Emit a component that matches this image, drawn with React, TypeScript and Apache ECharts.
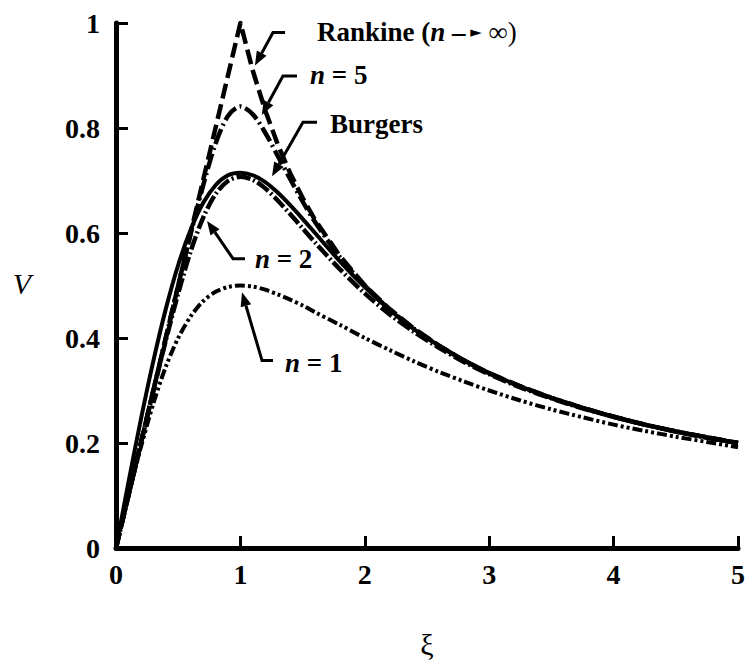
import React, { useEffect, useRef } from "react";
import * as echarts from "echarts";

// Radial coordinate (r / r_c) shared by the smooth profiles
const xi = [0, 0.1, 0.2, 0.3, 0.4, 0.5, 0.6, 0.7, 0.8, 0.9, 1.0, 1.1, 1.2, 1.3, 1.4, 1.5, 1.6, 1.8, 2.0, 2.2, 2.4, 2.6, 2.8, 3.0, 3.25, 3.5, 3.75, 4.0, 4.25, 4.5, 4.75, 5.0];

// Tangential velocity profiles
const vN1 = [0, 0.099, 0.192, 0.275, 0.345, 0.4, 0.441, 0.47, 0.488, 0.497, 0.5, 0.498, 0.492, 0.483, 0.473, 0.462, 0.449, 0.425, 0.4, 0.377, 0.355, 0.335, 0.317, 0.3, 0.281, 0.264, 0.249, 0.235, 0.223, 0.212, 0.202, 0.192];
const vN2 = [0, 0.1, 0.2, 0.299, 0.395, 0.485, 0.565, 0.629, 0.674, 0.699, 0.707, 0.701, 0.685, 0.662, 0.636, 0.609, 0.582, 0.531, 0.485, 0.445, 0.411, 0.381, 0.354, 0.331, 0.306, 0.285, 0.266, 0.25, 0.235, 0.222, 0.21, 0.2];
const vBurgers = [0, 0.125, 0.245, 0.356, 0.455, 0.539, 0.606, 0.657, 0.691, 0.71, 0.715, 0.71, 0.697, 0.677, 0.653, 0.627, 0.6, 0.546, 0.497, 0.454, 0.416, 0.385, 0.357, 0.333, 0.308, 0.286, 0.267, 0.25, 0.235, 0.222, 0.211, 0.2];
const vN5 = [0, 0.1, 0.2, 0.3, 0.4, 0.5, 0.598, 0.69, 0.77, 0.823, 0.841, 0.826, 0.791, 0.747, 0.703, 0.66, 0.621, 0.554, 0.5, 0.454, 0.417, 0.385, 0.357, 0.333, 0.308, 0.286, 0.267, 0.25, 0.235, 0.222, 0.211, 0.2];

// Rankine vortex: solid-body core, potential flow outside
const xiRankine = [0, 1, 1.1, 1.2, 1.3, 1.4, 1.5, 1.6, 1.8, 2.0, 2.2, 2.4, 2.6, 2.8, 3.0, 3.25, 3.5, 3.75, 4.0, 4.25, 4.5, 4.75, 5.0];
const vRankine = [0, 1, 0.909, 0.833, 0.769, 0.714, 0.667, 0.625, 0.556, 0.5, 0.455, 0.417, 0.385, 0.357, 0.333, 0.308, 0.286, 0.267, 0.25, 0.235, 0.222, 0.211, 0.2];

const yTicks = [0, 0.2, 0.4, 0.6, 0.8, 1];
const xTicks = [0, 1, 2, 3, 4, 5];

const SERIF = "Times New Roman, Liberation Serif, DejaVu Serif, serif";

// Callouts: arrow tip, elbow, end of leader (all in data units), then label anchor
type Callout = { tip: number[]; elbow: number[]; end: number[]; label: number[]; text: string };
const callouts: Callout[] = [
  { tip: [1.117, 0.919], elbow: [1.262, 0.982], end: [1.359, 0.982], label: [1.616, 0.982], text: "{b|Rankine (}{i|n}{b| \u2013}{t| \u25BA}{r| \u221E)}" },
  { tip: [1.172, 0.825], elbow: [1.342, 0.899], end: [1.455, 0.899], label: [1.56, 0.901], text: "{i|n}{b| = 5}" },
  { tip: [1.254, 0.708], elbow: [1.503, 0.811], end: [1.616, 0.811], label: [1.72, 0.807], text: "{b|Burgers}" },
  { tip: [0.732, 0.623], elbow: [0.941, 0.551], end: [1.037, 0.551], label: [1.117, 0.55], text: "{i|n}{b| = 2}" },
  { tip: [1.013, 0.487], elbow: [1.174, 0.357], end: [1.262, 0.357], label: [1.359, 0.353], text: "{i|n}{b| = 1}" },
];

const pairs = (xs: number[], ys: number[]) => xs.map((x, i) => [x, ys[i]]);

export default function App() {
  const ref = useRef<HTMLDivElement>(null);

  useEffect(() => {
    document.body.style.margin = "0";
    const chart = echarts.init(ref.current!, null, { renderer: "svg" });

    const line = (name: string, data: number[][], width: number, dash: any, smooth: number | boolean) => ({
      name,
      type: "line",
      data,
      smooth,
      showSymbol: false,
      symbol: "none",
      lineStyle: { color: "#000", width, type: dash, cap: "butt", join: "round" },
      z: 3,
    });

    chart.setOption({
      animation: false,
      backgroundColor: "#fff",
      textStyle: { fontFamily: SERIF },
      grid: { left: 116, right: 10, top: 23, bottom: 97 },
      xAxis: {
        type: "value",
        min: 0,
        max: 5,
        interval: 1,
        name: "\u03BE",
        nameLocation: "middle",
        nameGap: 81,
        nameTextStyle: { fontFamily: SERIF, fontSize: 30, color: "#000" },
        axisLine: { show: true, lineStyle: { color: "#000", width: 5 } },
        axisTick: { show: true, inside: true, length: 12, lineStyle: { color: "#000", width: 3 } },
        axisLabel: {
          fontFamily: SERIF,
          fontWeight: "bold",
          fontSize: 28,
          color: "#000",
          margin: 12,
          formatter: (v: number) => (xTicks.includes(v) ? String(v) : ""),
        },
        splitLine: { show: false },
      },
      yAxis: {
        type: "value",
        min: 0,
        max: 1,
        interval: 0.2,
        axisLine: { show: true, lineStyle: { color: "#000", width: 5 } },
        axisTick: { show: true, inside: true, length: 12, lineStyle: { color: "#000", width: 3 } },
        axisLabel: {
          fontFamily: SERIF,
          fontWeight: "bold",
          fontSize: 28,
          color: "#000",
          margin: 16,
          formatter: (v: number) => {
            const t = yTicks.find((k) => Math.abs(k - v) < 1e-9);
            if (t === undefined) return "";
            return t === 0 || t === 1 ? String(t) : t.toFixed(1);
          },
        },
        splitLine: { show: false },
      },
      series: [
        line("n = 1", pairs(xi, vN1), 4, [10, 3, 3, 3, 3, 3], 0.3),
        line("n = 2", pairs(xi, vN2), 4.5, [14, 3, 2, 3], 0.3),
        line("Burgers", pairs(xi, vBurgers), 4, "solid", 0.3),
        line("n = 5", pairs(xi, vN5), 4.5, [16, 4, 2, 4], 0.3),
        line("Rankine", pairs(xiRankine, vRankine), 4.5, [15, 6], false),
      ],
    });

    const px = (p: number[]) => chart.convertToPixel({ gridIndex: 0 }, p) as number[];
    const graphics: any[] = [];
    const headLen = 14;
    const headHalf = 5.5;
    callouts.forEach((c) => {
      const tip = px(c.tip);
      const elbow = px(c.elbow);
      const end = px(c.end);
      const dx = tip[0] - elbow[0];
      const dy = tip[1] - elbow[1];
      const len = Math.hypot(dx, dy);
      const ux = dx / len;
      const uy = dy / len;
      const base = [tip[0] - ux * headLen, tip[1] - uy * headLen];
      graphics.push({
        type: "polyline",
        shape: { points: [end, elbow, base] },
        style: { stroke: "#000", lineWidth: 3, fill: null },
        z: 10,
      });
      graphics.push({
        type: "polygon",
        shape: {
          points: [
            tip,
            [base[0] - uy * headHalf, base[1] + ux * headHalf],
            [base[0] + uy * headHalf, base[1] - ux * headHalf],
          ],
        },
        style: { fill: "#000", stroke: null },
        z: 10,
      });
      const lp = px(c.label);
      graphics.push({
        type: "text",
        x: lp[0],
        y: lp[1],
        z: 10,
        style: {
          text: c.text,
          align: "left",
          verticalAlign: "middle",
          fill: "#000",
          fontFamily: SERIF,
          rich: {
            b: { fontFamily: SERIF, fontSize: 27, fontWeight: "bold", fill: "#000" },
            i: { fontFamily: SERIF, fontSize: 27, fontWeight: "bold", fontStyle: "italic", fill: "#000" },
            t: { fontFamily: "DejaVu Sans", fontSize: 15, fill: "#000" },
            r: { fontFamily: SERIF, fontSize: 27, fill: "#000" },
          },
        },
      });
    });

    // Ordinate title
    graphics.push({
      type: "text",
      x: 22,
      y: 283,
      z: 10,
      style: {
        text: "V",
        align: "center",
        verticalAlign: "middle",
        fill: "#000",
        fontFamily: SERIF,
        fontSize: 30,
        fontStyle: "italic",
      },
    });

    chart.setOption({ graphic: graphics });

    return () => chart.dispose();
  }, []);

  return (
    <div
      ref={ref}
      style={{ position: "absolute", left: 0, top: 0, width: 748, height: 664 }}
    />
  );
}
